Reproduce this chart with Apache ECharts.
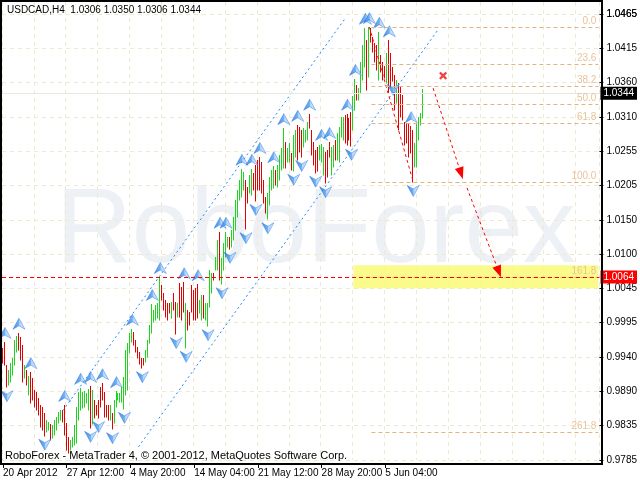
<!DOCTYPE html>
<html><head><meta charset="utf-8">
<script src="https://cdn.jsdelivr.net/npm/echarts@6/dist/echarts.min.js"></script>
<style>html,body{margin:0;padding:0;background:#fff}#c{width:640px;height:481px}</style>
</head><body><div id="c"></div>
<script>
const highs = [
0.9956,0.9965,0.9930,0.9922,0.9933,0.9941,0.9968,0.9974,0.9979,0.9973,
0.9960,0.9930,0.9922,0.9913,0.9919,0.9910,0.9892,0.9889,0.9880,0.9869,
0.9866,0.9857,0.9846,0.9843,0.9840,0.9838,0.9846,0.9851,0.9858,0.9861,
0.9861,0.9869,0.9841,0.9820,0.9816,0.9820,0.9838,0.9866,0.9889,0.9895,
0.9889,0.9890,0.9887,0.9893,0.9898,0.9892,0.9877,0.9869,0.9877,0.9896,
0.9902,0.9889,0.9869,0.9869,0.9869,0.9857,0.9877,0.9890,0.9887,0.9887,
0.9896,0.9912,0.9953,0.9963,0.9979,0.9985,0.9980,0.9968,0.9957,0.9950,
0.9941,0.9941,0.9953,0.9968,0.9991,1.0023,1.0014,1.0021,1.0024,1.0064,
1.0052,1.0040,1.0029,1.0024,1.0024,1.0026,1.0040,1.0026,1.0024,1.0055,
1.0049,1.0056,1.0024,1.0014,1.0011,1.0052,1.0044,1.0047,1.0053,1.0029,
1.0037,1.0037,1.0024,1.0024,1.0075,1.0070,1.0070,1.0095,1.0120,1.0133,
1.0093,1.0116,1.0133,1.0125,1.0125,1.0136,1.0156,1.0181,1.0197,1.0212,
1.0229,1.0224,1.0212,1.0201,1.0220,1.0229,1.0223,1.0235,1.0242,1.0247,
1.0239,1.0212,1.0186,1.0192,1.0217,1.0227,1.0233,1.0227,1.0235,1.0250,
1.0261,1.0291,1.0270,1.0261,1.0268,1.0253,1.0281,1.0288,1.0296,1.0293,
1.0288,1.0291,1.0288,1.0300,1.0313,1.0288,1.0270,1.0258,1.0262,1.0265,
1.0267,1.0262,1.0255,1.0258,1.0270,1.0262,1.0265,1.0273,1.0284,1.0293,
1.0308,1.0308,1.0311,1.0313,1.0306,1.0316,1.0340,1.0366,1.0357,1.0352,
1.0392,1.0418,1.0444,1.0425,1.0445,1.0444,1.0430,1.0421,1.0418,1.0438,
1.0403,1.0392,1.0386,1.0406,1.0425,1.0406,1.0384,1.0372,1.0364,1.0360,
1.0354,1.0342,1.0300,1.0299,1.0299,1.0294,1.0288,1.0268,1.0299,1.0308,
1.0314,1.0350];
const lows = [
0.9933,0.9930,0.9896,0.9899,0.9904,0.9915,0.9930,0.9950,0.9953,0.9938,
0.9904,0.9910,0.9899,0.9884,0.9872,0.9877,0.9866,0.9861,0.9854,0.9835,
0.9831,0.9822,0.9828,0.9831,0.9816,0.9819,0.9823,0.9831,0.9841,0.9846,
0.9843,0.9823,0.9800,0.9796,0.9800,0.9805,0.9808,0.9811,0.9846,0.9861,
0.9864,0.9866,0.9872,0.9861,0.9834,0.9840,0.9849,0.9854,0.9849,0.9866,
0.9877,0.9851,0.9851,0.9846,0.9846,0.9832,0.9841,0.9866,0.9877,0.9874,
0.9874,0.9863,0.9884,0.9892,0.9948,0.9965,0.9960,0.9950,0.9941,0.9931,
0.9925,0.9930,0.9934,0.9942,0.9963,0.9979,0.9995,0.9999,1.0002,0.9999,
1.0029,1.0014,1.0003,0.9999,1.0009,1.0002,1.0014,0.9977,1.0003,1.0003,
0.9999,1.0011,0.9956,0.9983,0.9991,1.0011,0.9999,0.9999,1.0002,1.0009,
0.9999,1.0002,0.9999,0.9989,1.0018,1.0040,1.0060,1.0075,1.0075,1.0060,
1.0053,1.0075,1.0095,1.0110,1.0107,1.0110,1.0120,1.0136,1.0156,1.0181,
1.0186,1.0197,1.0137,1.0177,1.0192,1.0189,1.0197,1.0180,1.0197,1.0197,
1.0192,1.0177,1.0162,1.0152,1.0174,1.0197,1.0200,1.0204,1.0201,1.0212,
1.0227,1.0230,1.0230,1.0239,1.0239,1.0227,1.0226,1.0247,1.0242,1.0255,
1.0247,1.0262,1.0270,1.0273,1.0291,1.0250,1.0235,1.0223,1.0226,1.0242,
1.0239,1.0220,1.0207,1.0217,1.0247,1.0220,1.0232,1.0242,1.0242,1.0239,
1.0278,1.0273,1.0268,1.0265,1.0273,1.0264,1.0288,1.0319,1.0334,1.0334,
1.0345,1.0364,1.0384,1.0349,1.0369,1.0422,1.0407,1.0392,1.0380,1.0364,
1.0377,1.0364,1.0367,1.0360,1.0345,1.0354,1.0363,1.0319,1.0329,1.0288,
1.0308,1.0303,1.0265,1.0268,1.0247,1.0253,1.0209,1.0232,1.0232,1.0273,
1.0296,1.0306];
// u = up bar (green), d = down bar (red)
const dirs = "ddduuuuudd" + "dududddddd" + "dduuduuuuu" + "dddduuuuuu" + "uuuududddd" +
             "dddduduuuu" + "uuuuuudddd" + "dduuuuuuuu" + "ddddduddud" + "dduddddddu" +
             "uduuuuduud" + "uuuuduuuuu" + "uudduudddd" + "ddduuuuduu" + "uuduuduudd" +
             "duuudddddu" + "uuddduuduu" + "uudddduudu" + "uuududdddu" + "ddduddddud" +
             "ddddddduuu" + "uu";
const upFractalBars = [1,8,14,31,39,44,50,57,65,75,79,91,98,109,112,120,125,129,136,141,148,154,160,164,173,177,182,184,189,194,205];
const downFractalBars = [2,21,44,48,55,61,70,87,92,103,110,114,122,127,133,146,150,157,162,175,196,206];
const xTickBars = [0,32,64,96,128,160,192];
const xTickLabels = ['20 Apr 2012','27 Apr 12:00','4 May 20:00','14 May 04:00','21 May 12:00','28 May 20:00','5 Jun 04:00'];
const yTickLabels = ['0.9785','0.9835','0.9890','0.9940','0.9995','1.0045','1.0100','1.0150','1.0205','1.0255','1.0310','1.0360','1.0415','1.0465'];
const fibLabels = ['0.0','23.6','38.2','50.0','61.8','100.0','161.8','261.8'];
const fibPrices = [1.0445,1.0389,1.0355,1.0327,1.0299,1.0209,1.0063,0.9827];
const upperChannel = [[30,0.9860],[172,1.0459]];
const lowerChannel = [[68,0.9805],[218,1.0439]];
const waveLine = [[184,1.0445],[206,1.0209]];
const forecastArrows = [[[216,1.0352],[230,1.0222]],[[233,1.0200],[249,1.0072]]];
const crossMark = [[221,1.0371]];
const targetZone = [[176,1.0082],[299,1.0047]];
const bidPrice = 1.0344;
const targetPrice = 1.0064;
const fibStartBar = 185, chartEndBar = 299, SLOTS = 300;

const Y_MIN = 0.9785, Y_MAX = 1.04833, Y_STEP = 0.9785 / 187;
const yTickValues = yTickLabels.map((_, k) => Y_MIN + k * Y_STEP);

const FONT = "'Liberation Sans', Arial, sans-serif";
const UP = '#1fd41f', DOWN = '#e30000';
const GRID = '#efe9cf';

const cats = [];
for (let i = 0; i < SLOTS; i++) cats.push(String(i));
const barData = highs.map((h, i) => [i, lows[i], h]);

const upPath = 'path://M6,0 L12,11 L6,7.5 L0,11 Z';
const downPath = 'path://M6,11 L12,0 L6,3.5 L0,0 Z';
const crossPath = 'path://M0,2 L2,0 L5,3 L8,0 L10,2 L7,5 L10,8 L8,10 L5,7 L2,10 L0,8 L3,5 Z';
const fractalFill = new echarts.graphic.LinearGradient(0, 0, 1, 0, [
  {offset: 0, color: '#1f6fe0'}, {offset: 0.5, color: '#4f9ef2'}, {offset: 0.55, color: '#9fccf8'}, {offset: 1, color: '#d6ebfd'}]);

function yLabel(v) {
  for (let k = 0; k < yTickLabels.length; k++) if (Math.abs(parseFloat(yTickLabels[k]) - v) < 0.0004) return yTickLabels[k];
  return '';
}
function seg(a, b, style) {
  return [{coord: a, symbol: 'none', lineStyle: style}, {coord: b, symbol: 'none'}];
}
const blueDots = {color: '#1e88ff', width: 1, type: [2, 3]};
const arrowStyle = {color: '#ff0000', type: [3, 3], width: 1,
                    shadowColor: 'rgba(120,120,90,0.22)', shadowBlur: 3, shadowOffsetX: 5, shadowOffsetY: 2};

const chart = echarts.init(document.getElementById('c'), null, {renderer: 'canvas'});
chart.setOption({
  animation: false,
  backgroundColor: '#fff',
  title: [
    {text: 'USDCAD,H4  1.0306 1.0350 1.0306 1.0344', left: 7, top: 5, padding: 0,
     textStyle: {fontSize: 10, fontWeight: 'normal', color: '#000', fontFamily: FONT}},
    {text: 'RoboForex - MetaTrader 4, © 2001-2012, MetaQuotes Software Corp.', left: 5, top: 450, padding: 0,
     textStyle: {fontSize: 11, fontWeight: 'normal', color: '#000', fontFamily: FONT}}
  ],
  graphic: [
    {type: 'text', left: 56, top: 181, z: -100, silent: true,
     style: {text: 'RoboForex', fontSize: 105, fontFamily: FONT, fill: 'rgba(200,212,228,0.32)'}},
    {type: 'rect', z: 100, silent: true, shape: {x: 1, y: 1, width: 601, height: 463},
     style: {fill: 'none', stroke: '#000', lineWidth: 2}}
  ],
  grid: {left: 2, right: 38, top: 2, bottom: 21, containLabel: false},
  xAxis: {
    type: 'category', data: cats, boundaryGap: true, offset: 4,
    axisLine: {show: false},
    axisTick: {show: true, alignWithLabel: true, length: 4, interval: (i) => xTickBars.indexOf(i) >= 0,
               lineStyle: {color: '#000'}},
    axisLabel: {interval: (i) => xTickBars.indexOf(i) >= 0, align: 'left', margin: 4,
                formatter: (v, i) => { const k = xTickBars.indexOf(i); return k >= 0 ? xTickLabels[k] : ''; },
                fontSize: 10, color: '#000', fontFamily: FONT},
    splitLine: {show: true, interval: (i) => i % 16 === 0, lineStyle: {color: GRID, type: [4, 4]}}
  },
  yAxis: [
    {
      type: 'value', position: 'right', min: Y_MIN, max: Y_MAX, interval: Y_STEP, scale: true,
      axisLine: {show: false},
      axisTick: {show: true, length: 4, lineStyle: {color: '#000'}, customValues: yTickValues},
      axisLabel: {margin: 7, fontSize: 10, color: '#000', fontFamily: FONT, customValues: yTickValues,
        showMaxLabel: true, showMinLabel: true, hideOverlap: false, formatter: yLabel},
      splitLine: {show: true, lineStyle: {color: GRID, type: [4, 4]}}
    },
    {
      type: 'value', position: 'right', min: Y_MIN, max: Y_MAX, interval: Y_STEP, scale: true,
      axisLine: {show: false}, axisTick: {show: false}, splitLine: {show: false},
      axisLabel: {margin: 7, fontSize: 10, color: '#000', fontFamily: FONT,
        customValues: [yTickValues[yTickValues.length - 1]], showMaxLabel: true, hideOverlap: false, formatter: yLabel}
    }
  ],
  series: [
    {
      type: 'custom', name: 'bars', z: 2, data: barData, encode: {x: 0, y: [1, 2]},
      renderItem: function (params, api) {
        const i = params.dataIndex;
        const lo = api.coord([i, lows[i]]);
        const hi = api.coord([i, highs[i]]);
        const px = Math.round(lo[0]) - 0.5;
        const col = dirs.charAt(i) === 'u' ? UP : DOWN;
        return {type: 'line', shape: {x1: px, y1: Math.round(lo[1]) + 0.5, x2: px, y2: Math.round(hi[1])},
                style: {stroke: col, lineWidth: 1, fill: null}};
      }
    },
    {type: 'scatter', name: 'up fractals', z: 4, symbol: upPath, symbolSize: [12, 11], symbolOffset: [0, -9],
     itemStyle: {color: fractalFill, borderColor: '#2a78e0', borderWidth: 0.6},
     data: upFractalBars.map(i => [i, highs[i]]),
     markArea: {silent: true, precision: 4, itemStyle: {color: 'rgba(250,250,120,0.85)'},
                data: [[{xAxis: targetZone[0][0], yAxis: targetZone[0][1]}, {xAxis: targetZone[1][0], yAxis: targetZone[1][1]}]]}},
    {type: 'scatter', name: 'down fractals', z: 4, symbol: downPath, symbolSize: [12, 11], symbolOffset: [0, 9],
     itemStyle: {color: fractalFill, borderColor: '#2a78e0', borderWidth: 0.6},
     data: downFractalBars.map(i => [i, lows[i]]),
     markLine: {silent: true, precision: 4, symbol: ['none', 'none'], label: {show: false},
       data: [seg(upperChannel[0], upperChannel[1], blueDots), seg(lowerChannel[0], lowerChannel[1], blueDots),
              seg(waveLine[0], waveLine[1], {color: '#ff0000', width: 1, type: [3, 3]})]}},
    {type: 'scatter', name: 'cross', z: 5, symbol: crossPath, symbolSize: 8,
     itemStyle: {color: '#ee1111'}, data: crossMark,
     markLine: {
       silent: true, precision: 4, symbol: ['none', 'none'],
       label: {show: false},
       data: [].concat(
         fibLabels.map((l, k) => [
           {coord: [fibStartBar, fibPrices[k]], name: l, symbol: 'none',
            lineStyle: {color: '#e0b582', type: [4, 3], width: 1},
            label: {show: true, position: 'insideEndTop', formatter: '{b}', color: '#e8c49a', fontSize: 10, fontFamily: FONT, distance: [2, 1]}},
           {coord: [chartEndBar, fibPrices[k]], symbol: 'none'}
         ]),
         forecastArrows.map(a => [
           {coord: a[0], symbol: 'none', lineStyle: arrowStyle},
           {coord: a[1], symbol: 'triangle', symbolSize: [9, 12],
            itemStyle: {color: '#ff0000', shadowColor: 'rgba(90,90,60,0.45)', shadowBlur: 4, shadowOffsetX: 3, shadowOffsetY: 2}}
         ]),
         [
           {yAxis: bidPrice, name: String(bidPrice), symbol: 'none',
            lineStyle: {color: '#e9e9dc', type: 'solid', width: 1},
            label: {show: true, position: 'end', formatter: bidPrice.toFixed(4), color: '#fff', backgroundColor: '#000',
                    padding: [2, 3, 1, 3], fontSize: 10, fontFamily: FONT, distance: 1}},
           {yAxis: targetPrice, name: String(targetPrice), symbol: 'none',
            lineStyle: {color: '#ff0000', type: [4, 3], width: 1},
            label: {show: true, position: 'end', formatter: targetPrice.toFixed(4), color: '#fff', backgroundColor: '#ff0000',
                    padding: [2, 3, 1, 3], fontSize: 10, fontFamily: FONT, distance: 1}}
         ]
       )
     }}
  ]
});
</script></body></html>
